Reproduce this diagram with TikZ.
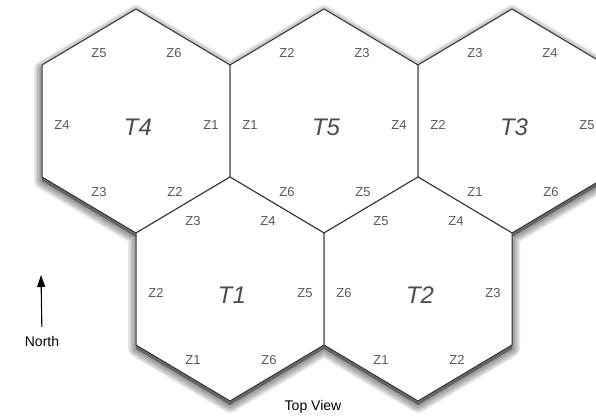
\documentclass[tikz,border=0pt]{standalone}
\usepackage{fontspec}
\setmainfont{Liberation Sans}
\usetikzlibrary{arrows.meta}
\tikzset{
  hexline/.style={draw=black!80, line width=1pt, line join=round, fill=white},
  zlabel/.style={text=black!65, font=\fontsize{13}{15}\selectfont, inner sep=0pt},
  tlabel/.style={text=black!70, font=\fontsize{24}{26}\selectfont\itshape, inner sep=0pt},
  caption/.style={font=\fontsize{14}{16}\selectfont, inner sep=0pt},
  northarrow/.style={line width=1.1pt, -{Triangle[length=12pt, width=8pt]}},
}
\begin{document}
\begin{tikzpicture}[x=1pt, y=-1pt, line cap=round]
    \useasboundingbox (0,0) rectangle (596,419);

    % Shadow under the outline of the five cells
    \foreach \r in {16,13,10,7,4} {
        \filldraw[black, opacity=0.09, line width=\r pt, line join=round, shift={(0,4)}]
            (42,65) -- (136,9) -- (230,65) -- (324,9) -- (418,65) -- (512,9)
            -- (606,65) -- (606,177) -- (512,233) -- (512,345) -- (418,401)
            -- (324,345) -- (230,401) -- (136,345) -- (136,233) -- (42,177) -- cycle;
    }

    % Hexagonal cells with their zones
    \foreach \cx/\cy/\name/\ul/\ur/\ml/\mr/\ll/\lr in {
        136/121/T4/Z5/Z6/Z4/Z1/Z3/Z2,
        324/121/T5/Z2/Z3/Z1/Z4/Z6/Z5,
        512/121/T3/Z3/Z4/Z2/Z5/Z1/Z6,
        230/289/T1/Z3/Z4/Z2/Z5/Z1/Z6,
        418/289/T2/Z5/Z4/Z6/Z3/Z1/Z2} {
        \filldraw[hexline, shift={(\cx,\cy)}]
            (0,-112) -- (94,-56) -- (94,56) -- (0,112) -- (-94,56) -- (-94,-56) -- cycle;
        \node[tlabel] (\name) at (\cx+2,\cy+6) {\name};
        \node[zlabel] (\name-ul) at (\cx-37,\cy-68) {\ul};
        \node[zlabel] (\name-ur) at (\cx+38,\cy-68) {\ur};
        \node[zlabel] (\name-ml) at (\cx-74,\cy+4) {\ml};
        \node[zlabel] (\name-mr) at (\cx+75,\cy+4) {\mr};
        \node[zlabel] (\name-ll) at (\cx-37,\cy+71) {\ll};
        \node[zlabel] (\name-lr) at (\cx+39,\cy+71) {\lr};
    }

    % Compass and caption
    \node[caption] (north) at (42,341) {North};
    \coordinate (northtip) at (41,275);
    \draw[northarrow, shorten <=9pt] (north.north) -- (northtip);
    \node[caption] (topview) at (313,407) {Top View};
\end{tikzpicture}
\end{document}
